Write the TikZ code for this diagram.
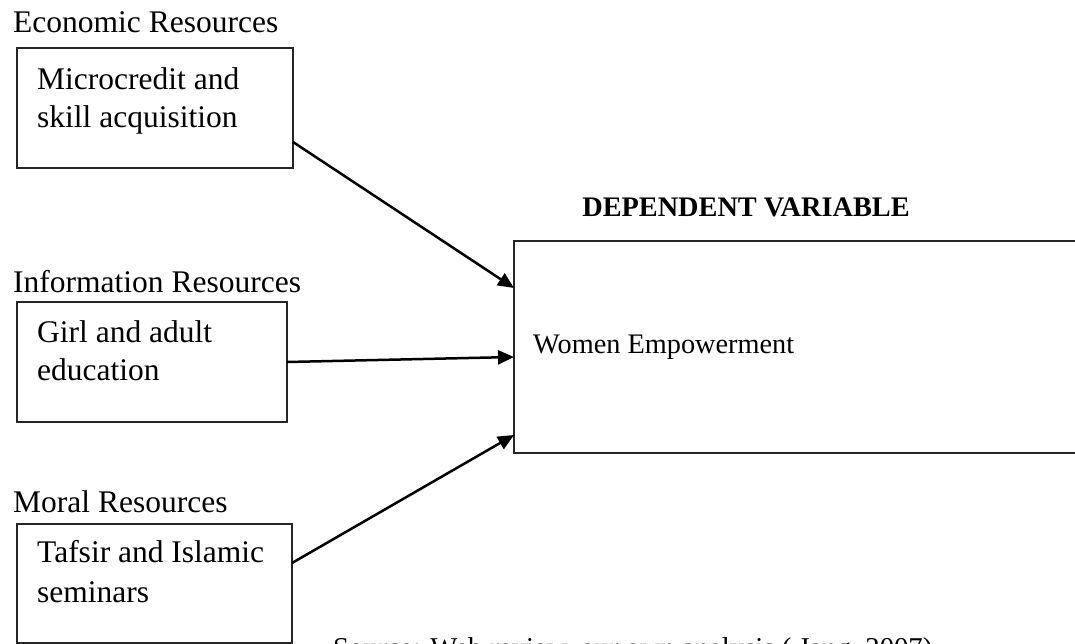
\documentclass[tikz,border=0pt]{standalone}
\usepackage{fontspec}
\setmainfont{Liberation Serif}
\usetikzlibrary{arrows.meta,calc}
\begin{document}
\begin{tikzpicture}[x=1pt,y=-1pt,
  boxline/.style={draw=black!85,line width=2pt,outer sep=0pt,inner sep=0pt,rectangle},
  lbl/.style={anchor=base west,inner sep=0pt,font=\fontsize{31.5}{38}\selectfont,align=left},
  lbls/.style={anchor=base west,inner sep=0pt,font=\fontsize{28.3}{34}\selectfont,align=left},
  arr/.style={line width=2.5pt,-{Triangle[length=16pt,width=14pt]}}]
\useasboundingbox (0,0) rectangle (1075,644);
\clip (0,0) rectangle (1075,644);
% labels
\node[lbl] (econ) at (13,33) {Economic Resources};
\node[lbl] (info) at (13,292) {Information Resources};
\node[lbl] (moral) at (13,512) {Moral Resources};
% boxes
\node[boxline,anchor=north west,minimum width=276pt,minimum height=120pt] (b1) at (17,48) {};
\node[boxline,anchor=north west,minimum width=270pt,minimum height=120pt] (b2) at (17,302) {};
\node[boxline,anchor=north west,minimum width=275pt,minimum height=119pt] (b3) at (17,524) {};
\node[lbl] (t1a) at (37,90) {Microcredit and};
\node[lbl] (t1b) at (37,128) {skill acquisition};
\node[lbl] (t2a) at (37,342) {Girl and adult};
\node[lbl] (t2b) at (37,380) {education};
\node[lbl] (t3a) at (37,562) {Tafsir and Islamic};
\node[lbl] (t3b) at (37,602) {seminars};
% dependent
\node[boxline,anchor=north west,minimum width=600pt,minimum height=212pt] (dv) at (514,241) {};
\node[anchor=base,inner sep=0pt,font=\fontsize{28.3}{34}\selectfont\bfseries] (dvt) at (746,217) {DEPENDENT VARIABLE};
\node[lbls] (we) at (533,353) {Women Empowerment};
% source
\node[lbls,font=\fontsize{28.7}{34}\selectfont] (src) at (333,657) {Source: Web review, our own analysis ( Jang, 2007)};
% arrows
\draw[arr] ($(b1.south east)+(0,-26)$) -- ($(dv.north west)+(0,47)$);
\draw[arr] (b2.east) -- ($(dv.north west)+(0,116)$);
\draw[arr] ($(b3.north east)+(0,39)$) -- ($(dv.north west)+(0,194)$);
\end{tikzpicture}
\end{document}
